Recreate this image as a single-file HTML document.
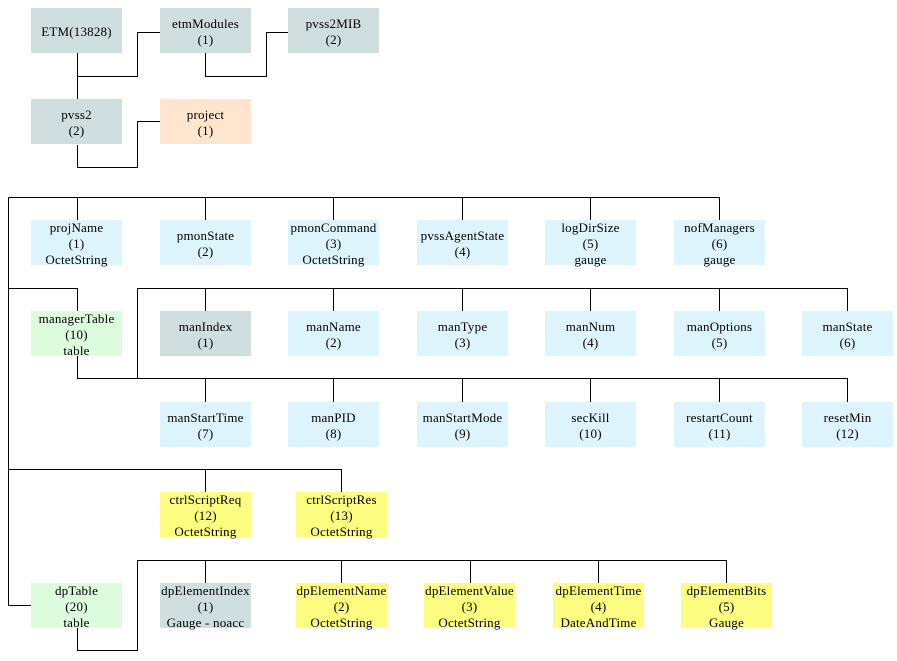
<!DOCTYPE html>
<html><head><meta charset="utf-8">
<style>
html,body{margin:0;padding:0;background:#fff;}
body{width:897px;height:661px;position:relative;overflow:hidden;font-family:"Liberation Serif",serif;font-size:13px;color:#000;}
.b{position:absolute;width:91px;height:45px;box-sizing:border-box;padding-top:2px;display:flex;flex-direction:column;justify-content:center;align-items:center;line-height:16px;text-align:center;white-space:nowrap;letter-spacing:0.2px;}
.g{background:#cfdfdf}.l{background:#ddf4fc}.n{background:#ddfcdd}.p{background:#fee5cd}.y{background:#fcfc80}
svg{position:absolute;left:0;top:0;}
</style></head><body>
<svg width="897" height="661" viewBox="0 0 897 661">
<g stroke="#000" stroke-width="1" fill="none" shape-rendering="crispEdges">
<path d="M77.5 53V99M77.5 76.5H137.5V32.5H160"/>
<path d="M205.5 53V76.5H266.5V32.5H288"/>
<path d="M77.5 145V167.5H137.5V121.5H160"/>
<path d="M8.5 197.5H719.5M8.5 197.5V605.5"/>
<path d="M77.5 197V220M205.5 197V220M333.5 197V220M462.5 197V220M590.5 197V220M719.5 197V220"/>
<path d="M8.5 288.5H77.5V311"/>
<path d="M77.5 356V378.5H847.5M137.5 378.5V288.5H847.5"/>
<path d="M205.5 288V311M333.5 288V311M462.5 288V311M590.5 288V311M719.5 288V311M847.5 288V311"/>
<path d="M205.5 378V402M333.5 378V402M462.5 378V402M590.5 378V402M719.5 378V402M847.5 378V402"/>
<path d="M8.5 469.5H341.5V492M205.5 469V492"/>
<path d="M8.5 605.5H31"/>
<path d="M77.5 628V650.5H137.5V560.5H726.5"/>
<path d="M205.5 560V583M341.5 560V583M470.5 560V583M598.5 560V583M726.5 560V583"/>
</g></svg>

<div class="b g" style="left:31px;top:8px">ETM(13828)</div>
<div class="b g" style="left:160px;top:8px"><div>etmModules</div><div>(1)</div></div>
<div class="b g" style="left:288px;top:8px"><div>pvss2MIB</div><div>(2)</div></div>
<div class="b g" style="left:31px;top:99px"><div>pvss2</div><div>(2)</div></div>
<div class="b p" style="left:160px;top:99px"><div>project</div><div>(1)</div></div>

<div class="b l" style="left:31px;top:220px"><div>projName</div><div>(1)</div><div>OctetString</div></div>
<div class="b l" style="left:160px;top:220px"><div>pmonState</div><div>(2)</div></div>
<div class="b l" style="left:288px;top:220px"><div>pmonCommand</div><div>(3)</div><div>OctetString</div></div>
<div class="b l" style="left:417px;top:220px"><div>pvssAgentState</div><div>(4)</div></div>
<div class="b l" style="left:545px;top:220px"><div>logDirSize</div><div>(5)</div><div>gauge</div></div>
<div class="b l" style="left:674px;top:220px"><div>nofManagers</div><div>(6)</div><div>gauge</div></div>

<div class="b n" style="left:31px;top:311px"><div>managerTable</div><div>(10)</div><div>table</div></div>
<div class="b g" style="left:160px;top:311px"><div>manIndex</div><div>(1)</div></div>
<div class="b l" style="left:288px;top:311px"><div>manName</div><div>(2)</div></div>
<div class="b l" style="left:417px;top:311px"><div>manType</div><div>(3)</div></div>
<div class="b l" style="left:545px;top:311px"><div>manNum</div><div>(4)</div></div>
<div class="b l" style="left:674px;top:311px"><div>manOptions</div><div>(5)</div></div>
<div class="b l" style="left:802px;top:311px"><div>manState</div><div>(6)</div></div>

<div class="b l" style="left:160px;top:402px"><div>manStartTime</div><div>(7)</div></div>
<div class="b l" style="left:288px;top:402px"><div>manPID</div><div>(8)</div></div>
<div class="b l" style="left:417px;top:402px"><div>manStartMode</div><div>(9)</div></div>
<div class="b l" style="left:545px;top:402px"><div>secKill</div><div>(10)</div></div>
<div class="b l" style="left:674px;top:402px"><div>restartCount</div><div>(11)</div></div>
<div class="b l" style="left:802px;top:402px"><div>resetMin</div><div>(12)</div></div>

<div class="b y" style="left:160px;top:492px"><div>ctrlScriptReq</div><div>(12)</div><div>OctetString</div></div>
<div class="b y" style="left:296px;top:492px"><div>ctrlScriptRes</div><div>(13)</div><div>OctetString</div></div>

<div class="b n" style="left:31px;top:583px"><div>dpTable</div><div>(20)</div><div>table</div></div>
<div class="b g" style="left:160px;top:583px"><div>dpElementIndex</div><div>(1)</div><div>Gauge - noacc</div></div>
<div class="b y" style="left:296px;top:583px"><div>dpElementName</div><div>(2)</div><div>OctetString</div></div>
<div class="b y" style="left:424px;top:583px"><div>dpElementValue</div><div>(3)</div><div>OctetString</div></div>
<div class="b y" style="left:553px;top:583px"><div>dpElementTime</div><div>(4)</div><div>DateAndTime</div></div>
<div class="b y" style="left:681px;top:583px"><div>dpElementBits</div><div>(5)</div><div>Gauge</div></div>
</body></html>
